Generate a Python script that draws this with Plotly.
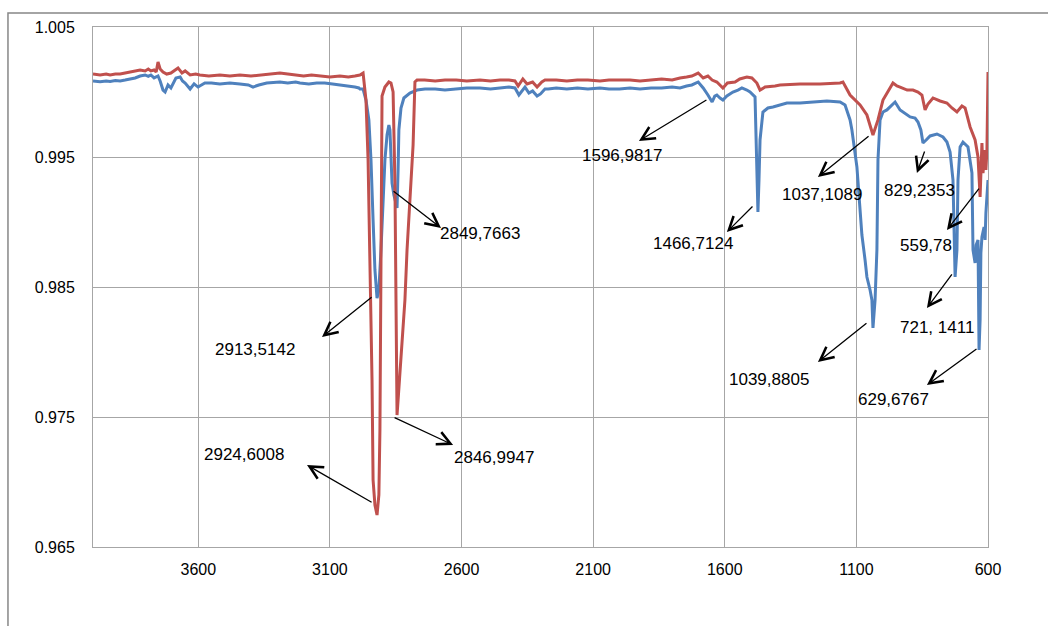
import plotly.graph_objects as go

# ---- data (wavenumber cm-1, transmittance) ----
blue_wn = [4000, 3973, 3950, 3935, 3915, 3897, 3878, 3859, 3840, 3821, 3802, 3790, 3780, 3768, 3760,
           3753, 3745, 3734, 3726, 3715, 3704, 3695, 3685, 3669, 3660, 3650, 3631, 3616, 3601, 3575,
           3550, 3518, 3480, 3442, 3410, 3392, 3370, 3340, 3310, 3290, 3260, 3230, 3214, 3180, 3150,
           3120, 3090, 3062, 3040, 3020, 3005, 2990, 2986, 2974, 2963, 2952, 2944, 2936, 2929, 2921,
           2914, 2906, 2898, 2891, 2883, 2876, 2872, 2868, 2864, 2857, 2849, 2845, 2841, 2838, 2830,
           2819, 2796, 2769, 2739, 2700, 2663, 2620, 2580, 2530, 2490, 2454, 2420, 2397, 2382, 2359,
           2344, 2330, 2313, 2300, 2283, 2271, 2240, 2200, 2160, 2120, 2074, 2040, 2000, 1960, 1922,
           1880, 1840, 1800, 1770, 1745, 1725, 1701, 1682, 1664, 1648, 1638, 1630, 1618, 1607, 1592,
           1569, 1550, 1535, 1516, 1504, 1485, 1478, 1474, 1470, 1466, 1455, 1436, 1417, 1390, 1364,
           1314, 1265, 1212, 1162, 1143, 1124, 1117, 1098, 1086, 1079, 1067, 1060, 1048, 1041, 1037,
           1029, 1022, 1018, 1010, 999, 984, 961, 953, 934, 915, 896, 877, 866, 855, 847,
           835, 820, 794, 771, 756, 744, 733, 729, 725, 718, 714, 706, 695, 676, 668,
           661, 657, 649, 645, 638, 634, 630, 627, 623, 615, 611, 608, 604, 600]
blue_t = [1.00085, 1.00079, 1.00085, 1.00081, 1.00088, 1.00085, 1.00092, 1.00100, 1.00108, 1.00123, 1.00131, 1.00120, 1.00131, 1.00108, 1.00115,
          1.00123, 1.00085, 1.00015, 1.00000, 1.00054, 1.00031, 1.00069, 1.00108, 1.00115, 1.00085, 1.00069, 1.00023, 1.00062, 1.00038, 1.00069,
          1.00069, 1.00062, 1.00069, 1.00062, 1.00054, 1.00038, 1.00054, 1.00069, 1.00077, 1.00077, 1.00069, 1.00077, 1.00069, 1.00062, 1.00069,
          1.00069, 1.00062, 1.00054, 1.00046, 1.00046, 1.00038, 1.00031, 1.00023, 1.00023, 0.99938, 0.99785, 0.99477, 0.99015, 0.98631, 0.98415,
          0.98477, 0.98785, 0.99169, 0.99477, 0.99669, 0.99746, 0.99708, 0.99477, 0.99300, 0.99208, 0.99131, 0.99108, 0.99400, 0.99708, 0.99877,
          0.99954, 0.99992, 1.00015, 1.00023, 1.00023, 1.00015, 1.00023, 1.00031, 1.00031, 1.00023, 1.00031, 1.00038, 1.00031, 0.99977, 1.00038,
          0.99992, 1.00008, 0.99969, 0.99985, 1.00023, 1.00023, 1.00031, 1.00023, 1.00031, 1.00023, 1.00031, 1.00023, 1.00023, 1.00031, 1.00023,
          1.00031, 1.00031, 1.00038, 1.00031, 1.00046, 1.00054, 1.00077, 1.00031, 0.99977, 0.99923, 0.99969, 0.99977, 0.99954, 0.99938, 0.99969,
          1.00000, 1.00015, 1.00031, 1.00015, 1.00000, 0.99962, 0.99500, 0.99077, 0.99323, 0.99631, 0.99846, 0.99877, 0.99885, 0.99900, 0.99915,
          0.99915, 0.99923, 0.99931, 0.99923, 0.99900, 0.99785, 0.99708, 0.99423, 0.99092, 0.98900, 0.98708, 0.98577, 0.98477, 0.98400, 0.98185,
          0.98400, 0.98785, 0.99477, 0.99785, 0.99846, 0.99862, 0.99908, 0.99923, 0.99862, 0.99838, 0.99808, 0.99800, 0.99769, 0.99708, 0.99608,
          0.99631, 0.99662, 0.99677, 0.99654, 0.99615, 0.99538, 0.99323, 0.98862, 0.98577, 0.98785, 0.99323, 0.99577, 0.99615, 0.99577, 0.99477,
          0.99377, 0.98785, 0.98685, 0.98823, 0.98862, 0.98015, 0.98246, 0.98762, 0.98885, 0.98962, 0.98862, 0.99069, 0.99208, 0.99323]

red_wn = [4000, 3973, 3950, 3935, 3915, 3897, 3878, 3859, 3840, 3821, 3802, 3790, 3780, 3768, 3760,
          3753, 3745, 3734, 3720, 3704, 3677, 3662, 3650, 3631, 3610, 3594, 3560, 3518, 3480, 3442,
          3400, 3366, 3330, 3290, 3260, 3230, 3200, 3170, 3138, 3100, 3062, 3030, 3005, 2986, 2974,
          2963, 2955, 2948, 2940, 2936, 2929, 2921, 2914, 2910, 2906, 2902, 2891, 2876, 2868, 2860,
          2853, 2849, 2845, 2841, 2834, 2822, 2815, 2807, 2800, 2792, 2784, 2777, 2769, 2740, 2700,
          2663, 2620, 2580, 2530, 2490, 2454, 2420, 2397, 2385, 2367, 2351, 2330, 2313, 2295, 2283,
          2240, 2200, 2160, 2120, 2074, 2040, 2000, 1960, 1922, 1880, 1840, 1800, 1770, 1745, 1725,
          1701, 1682, 1664, 1648, 1630, 1607, 1590, 1561, 1543, 1516, 1497, 1478, 1466, 1447, 1409,
          1390, 1314, 1238, 1162, 1151, 1124, 1086, 1060, 1037, 1018, 999, 961, 946, 934, 907,
          885, 866, 851, 839, 828, 809, 782, 756, 737, 718, 699, 687, 668, 649, 638,
          630, 623, 619, 611, 608, 604, 600]
red_t = [1.00138, 1.00131, 1.00138, 1.00131, 1.00138, 1.00138, 1.00146, 1.00154, 1.00162, 1.00169, 1.00162, 1.00177, 1.00162, 1.00169, 1.00154,
         1.00231, 1.00177, 1.00154, 1.00138, 1.00146, 1.00185, 1.00146, 1.00162, 1.00131, 1.00138, 1.00131, 1.00123, 1.00131, 1.00123, 1.00131,
         1.00123, 1.00131, 1.00138, 1.00146, 1.00138, 1.00131, 1.00123, 1.00131, 1.00123, 1.00115, 1.00123, 1.00115, 1.00123, 1.00131, 1.00146,
         0.99938, 0.99477, 0.98785, 0.97785, 0.97015, 0.96823, 0.96746, 0.96900, 0.97400, 0.98500, 0.99969, 1.00038, 1.00077, 1.00069, 1.00000,
         0.99300, 0.98300, 0.97515, 0.97631, 0.97862, 0.98246, 0.98400, 0.98785, 0.99015, 0.99246, 0.99592, 1.00077, 1.00092, 1.00092, 1.00085,
         1.00092, 1.00092, 1.00085, 1.00092, 1.00085, 1.00092, 1.00092, 1.00085, 1.00046, 1.00100, 1.00062, 1.00077, 1.00038, 1.00077, 1.00092,
         1.00092, 1.00085, 1.00092, 1.00092, 1.00085, 1.00092, 1.00092, 1.00092, 1.00085, 1.00092, 1.00100, 1.00092, 1.00108, 1.00115, 1.00123,
         1.00146, 1.00108, 1.00123, 1.00092, 1.00077, 1.00031, 1.00069, 1.00077, 1.00100, 1.00115, 1.00108, 1.00069, 1.00015, 1.00038, 1.00046,
         1.00054, 1.00062, 1.00062, 1.00069, 1.00077, 0.99977, 0.99900, 0.99823, 0.99669, 0.99785, 0.99938, 1.00069, 1.00046, 1.00038, 1.00015,
         1.00015, 1.00000, 0.99977, 0.99862, 0.99908, 0.99954, 0.99931, 0.99915, 0.99877, 0.99846, 0.99892, 0.99877, 0.99731, 0.99631, 0.99500,
         0.99192, 0.99608, 0.99377, 0.99554, 0.99400, 0.99554, 1.00154]

x_ticks = [3600, 3100, 2600, 2100, 1600, 1100, 600]
y_ticks = [0.965, 0.975, 0.985, 0.995, 1.005]

# ---- peak labels: text, label position, arrow tail (on curve), arrow head ----
labels = ["2849,7663", "2846,9947", "2913,5142", "2924,6008", "1596,9817", "1466,7124",
          "1037,1089", "829,2353", "559,78", "721, 1411", "1039,8805", "629,6767"]
label_x = [2689, 2636, 3544, 3586, 2150, 1880, 1390, 1003, 942, 942, 1591, 1101]
label_y = [0.98908, 0.97185, 0.98023, 0.97208, 0.99515, 0.98831, 0.99208, 0.99246, 0.98823, 0.98185, 0.97785, 0.97631]
tail_x = [2864, 2860, 2936, 2936, 1664, 1489, 1048, 839, 630, 733, 1056, 638]
tail_y = [0.99246, 0.97500, 0.98431, 0.96838, 0.99946, 0.99131, 0.99669, 0.99554, 0.99269, 0.98608, 0.98231, 0.98031]
head_x = [2678, 2632, 3130, 3187, 1926, 1592, 1246, 870, 756, 832, 1246, 832]
head_y = [0.98954, 0.97285, 0.98115, 0.97131, 0.99623, 0.98923, 0.99346, 0.99377, 0.98938, 0.98338, 0.97923, 0.97746]

FONT = "Liberation Sans, Arial, sans-serif"

fig = go.Figure()
fig.add_trace(go.Scatter(x=blue_wn, y=blue_t, mode="lines",
                         line=dict(color="#4F81BD", width=3), showlegend=False))
fig.add_trace(go.Scatter(x=red_wn, y=red_t, mode="lines",
                         line=dict(color="#C0504D", width=3), showlegend=False))

annotations = []
for i, t in enumerate(labels):
    annotations.append(dict(x=head_x[i], y=head_y[i], ax=tail_x[i], ay=tail_y[i],
                            xref="x", yref="y", axref="x", ayref="y",
                            text="", showarrow=True, arrowhead=5, arrowsize=2,
                            arrowwidth=1.3, arrowcolor="#000000",
                            standoff=0, startstandoff=0))
    annotations.append(dict(x=label_x[i], y=label_y[i], xref="x", yref="y",
                            text=t, showarrow=False, xanchor="left", yanchor="middle",
                            font=dict(family=FONT, size=17, color="#000000")))

fig.update_layout(
    width=1048, height=626,
    margin=dict(l=93, r=60, t=27, b=79),
    paper_bgcolor="white", plot_bgcolor="white",
    font=dict(family=FONT, size=16, color="#000000"),
    annotations=annotations,
    shapes=[dict(type="rect", xref="paper", yref="paper",
                 x0=-0.095, x1=1.08, y0=-0.2, y1=1.027,
                 line=dict(color="#878787", width=1.5), layer="below")],
)
fig.update_xaxes(range=[4000, 600], tickvals=x_ticks, ticktext=[str(v) for v in x_ticks],
                 showgrid=True, gridcolor="#A6A6A6", gridwidth=1,
                 showline=True, linecolor="#A6A6A6", linewidth=1, mirror=True,
                 ticks="", ticklabelstandoff=8, zeroline=False,
                 tickfont=dict(family=FONT, size=16, color="#000000"))
fig.update_yaxes(range=[0.965, 1.005], tickvals=y_ticks, tickformat=".3f",
                 showgrid=True, gridcolor="#A6A6A6", gridwidth=1,
                 showline=True, linecolor="#A6A6A6", linewidth=1, mirror=True,
                 ticks="", ticklabelstandoff=14, zeroline=False,
                 tickfont=dict(family=FONT, size=16, color="#000000"))

fig.write_html("out.html")
